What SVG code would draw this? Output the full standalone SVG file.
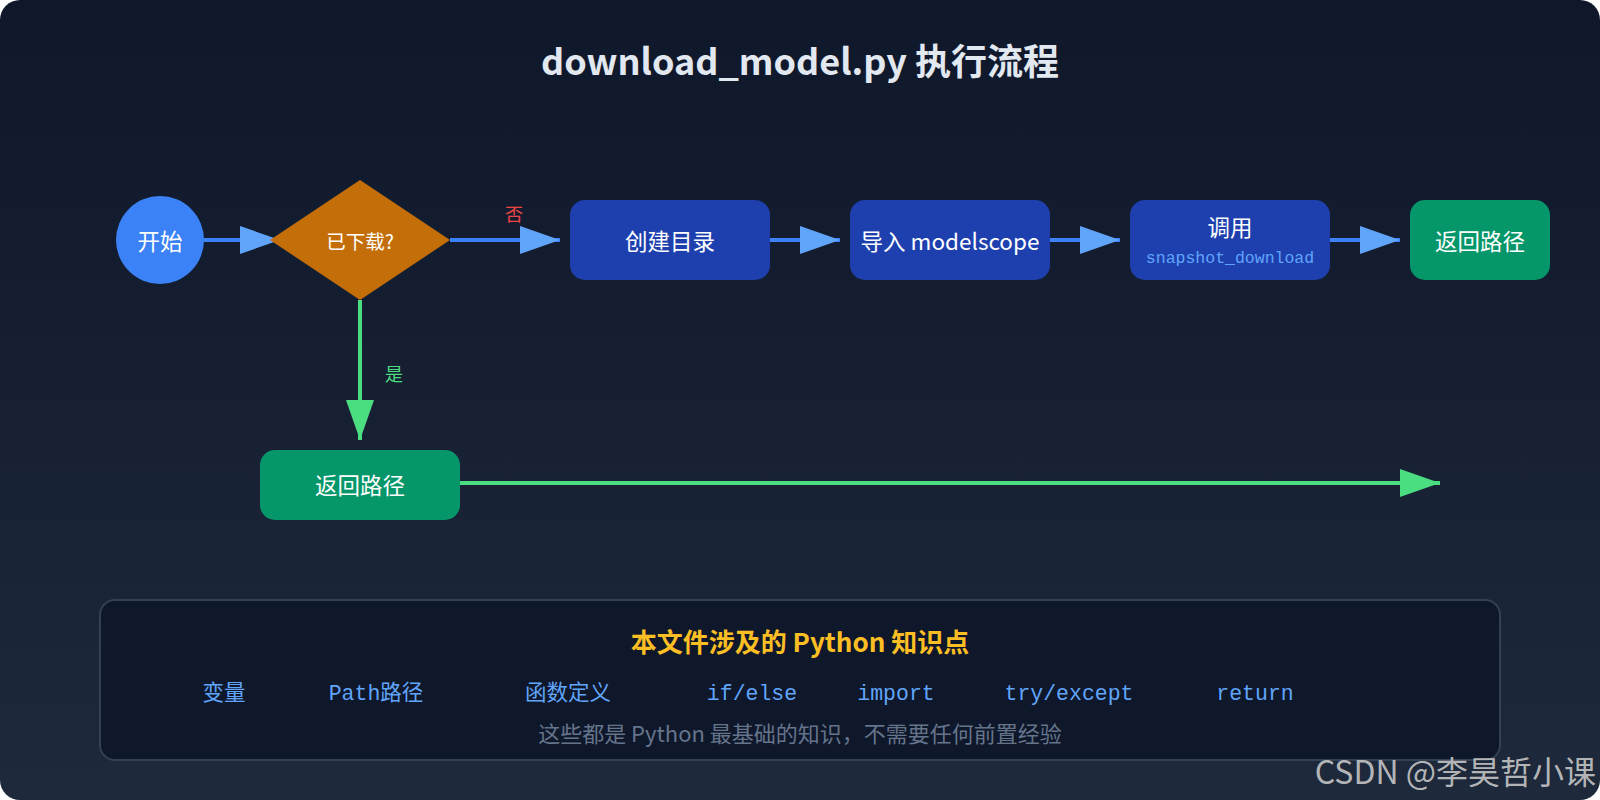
<svg xmlns="http://www.w3.org/2000/svg" width="1600" height="800" viewBox="0 0 1600 800">
  <defs>
    <linearGradient id="bg" x1="0" y1="0" x2="0" y2="1">
      <stop offset="0" stop-color="#0f172a"/>
      <stop offset="1" stop-color="#1e293b"/>
    </linearGradient>
    <marker id="arrowBlue" markerUnits="userSpaceOnUse" markerWidth="40" markerHeight="28" refX="40" refY="14" orient="auto">
      <path d="M0,0 L40,14 L0,28 Z" fill="#60a5fa"/>
    </marker>
    <marker id="arrowGreen" markerUnits="userSpaceOnUse" markerWidth="40" markerHeight="28" refX="40" refY="14" orient="auto">
      <path d="M0,0 L40,14 L0,28 Z" fill="#4ade80"/>
    </marker>
    <style>
      .sans { font-family: "Noto Sans CJK SC", "Noto Sans", sans-serif; }
      .mono { font-family: "Liberation Mono", "Noto Sans CJK SC", monospace; }
      .node-text { fill: #ffffff; font-size: 22.5px; text-anchor: middle; }
      .blue-box { fill: #1e40af; }
      .green-box { fill: #059669; }
      .flow-blue { stroke: #3b82f6; stroke-width: 4; fill: none; marker-end: url(#arrowBlue); }
      .flow-green { stroke: #4ade80; stroke-width: 4; fill: none; marker-end: url(#arrowGreen); }
      .item { fill: #60a5fa; font-size: 21.5px; text-anchor: middle; }
    </style>
  </defs>

  <rect x="0" y="0" width="1600" height="800" rx="20" ry="20" fill="url(#bg)"/>

  <text class="sans" x="800" y="75" text-anchor="middle" font-size="36" font-weight="bold" fill="#e2e8f0">download_model.py 执行流程</text>

  <g id="connectors">
    <line class="flow-blue" x1="204" y1="240" x2="280" y2="240"/>
    <line class="flow-blue" x1="450" y1="240" x2="560" y2="240"/>
    <line class="flow-blue" x1="770" y1="240" x2="840" y2="240"/>
    <line class="flow-blue" x1="1050" y1="240" x2="1120" y2="240"/>
    <line class="flow-blue" x1="1330" y1="240" x2="1400" y2="240"/>
    <line class="flow-green" x1="360" y1="300" x2="360" y2="440"/>
    <line class="flow-green" x1="460" y1="483" x2="1440" y2="483"/>
    <text class="sans" x="514" y="221" text-anchor="middle" font-size="18" fill="#ef4444">否</text>
    <text class="sans" x="394" y="381" text-anchor="middle" font-size="18" fill="#4ade80">是</text>
  </g>

  <g id="node-start">
    <circle cx="160" cy="240" r="44" fill="#3b82f6"/>
    <text class="sans node-text" x="160" y="250">开始</text>
  </g>

  <g id="node-check">
    <polygon points="270,240 360,180 450,240 360,300" fill="#c46e0a"/>
    <text class="sans" x="360" y="249" text-anchor="middle" font-size="19.5" fill="#ffffff">已下载?</text>
  </g>

  <g id="node-mkdir">
    <rect class="blue-box" x="570" y="200" width="200" height="80" rx="15" ry="15"/>
    <text class="sans node-text" x="670" y="250">创建目录</text>
  </g>

  <g id="node-import">
    <rect class="blue-box" x="850" y="200" width="200" height="80" rx="15" ry="15"/>
    <text class="sans node-text" x="950" y="250">导入 modelscope</text>
  </g>

  <g id="node-call">
    <rect class="blue-box" x="1130" y="200" width="200" height="80" rx="15" ry="15"/>
    <text class="sans node-text" x="1230" y="236">调用</text>
    <text class="mono" x="1230" y="263" text-anchor="middle" font-size="16.5" fill="#60a5fa">snapshot_download</text>
  </g>

  <g id="node-return-top">
    <rect class="green-box" x="1410" y="200" width="140" height="80" rx="15" ry="15"/>
    <text class="sans node-text" x="1480" y="250">返回路径</text>
  </g>

  <g id="node-return-bottom">
    <rect class="green-box" x="260" y="450" width="200" height="70" rx="15" ry="15"/>
    <text class="sans node-text" x="360" y="494">返回路径</text>
  </g>

  <g id="knowledge-panel">
    <rect x="100" y="600" width="1400" height="160" rx="15" ry="15" fill="#0f172a" stroke="#334155" stroke-width="2"/>
    <text class="sans" x="800" y="652" text-anchor="middle" font-size="26" font-weight="bold" fill="#fbbf24">本文件涉及的 Python 知识点</text>
    <text class="mono item" x="224" y="700">变量</text>
    <text class="mono item" x="376" y="700">Path路径</text>
    <text class="mono item" x="568" y="700">函数定义</text>
    <text class="mono item" x="752" y="700">if/else</text>
    <text class="mono item" x="896" y="700">import</text>
    <text class="mono item" x="1069" y="700">try/except</text>
    <text class="mono item" x="1255" y="700">return</text>
    <text class="sans" x="800" y="742" text-anchor="middle" font-size="22" fill="#64748b">这些都是 Python 最基础的知识，不需要任何前置经验</text>
  </g>

  <text class="sans" x="1596" y="784" text-anchor="end" font-size="32" fill="#c8c8c8" fill-opacity="0.9">CSDN @李昊哲小课</text>
</svg>
